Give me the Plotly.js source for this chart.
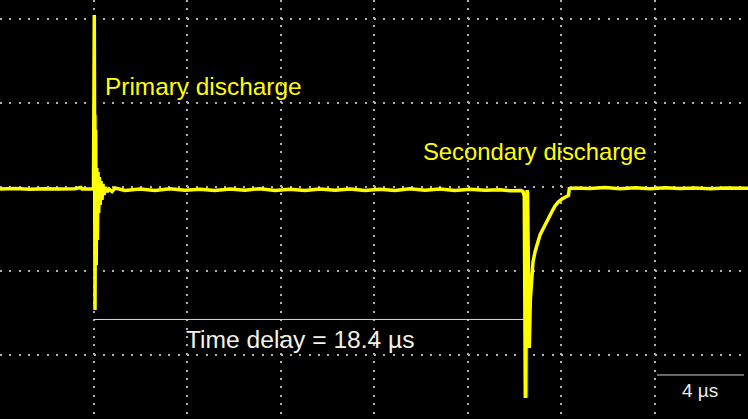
<!DOCTYPE html>
<html>
<head>
<meta charset="utf-8">
<script src="https://cdn.plot.ly/plotly-3.0.1.min.js"></script>
<style>
  html, body { margin: 0; padding: 0; background: #000; }
  #chart { width: 748px; height: 419px; }
</style>
</head>
<body>
<div id="chart"></div>
<script>
// Time in microseconds (4 µs per division), amplitude in vertical divisions
const timeUs = [
  0, 0.642, 1.283, 1.925, 2.567, 3.209, 3.465, 3.508, 4.000,
  4.034, 4.064, 4.090, 4.116, 4.141, 4.167, 4.193, 4.222, 4.253, 4.287, 4.321, 4.364, 4.406, 4.449, 4.513, 4.578, 4.663, 4.791,
  4.920, 5.348, 5.989, 6.631, 7.273, 7.914, 8.556, 9.198, 9.840, 10.481, 11.123, 11.765, 12.406, 13.048,
  13.690, 14.332, 14.973, 15.615, 16.257, 16.898, 17.540, 18.182, 18.824, 19.465, 20.107, 20.749, 21.390, 21.818, 22.289, 22.374,
  22.430, 22.473, 22.516, 22.554, 22.597, 22.644, 22.687, 22.747, 22.802, 22.888, 22.995, 23.102, 23.209, 23.316, 23.444,
  23.602, 23.743, 23.884, 24.043, 24.171, 24.321, 24.355, 24.599,
  25.241, 25.882, 26.524, 27.166, 27.807, 28.449, 29.091, 29.733, 30.374, 31.016, 32.000
];
const signalDiv = [
  -0.018, -0.013, -0.020, -0.014, -0.019, -0.015, 0.000, -0.018, -0.018,
  2.054, -1.458, 0.685, -0.923, 0.232, -0.625, 0.185, -0.304, 0.125, -0.208, 0.077, -0.149, 0.042, -0.089, 0.006, -0.054, -0.018, -0.048,
  -0.006, -0.036, -0.018, -0.036, -0.015, -0.032, -0.021, -0.037, -0.018, -0.033, -0.014, -0.035, -0.020, -0.037,
  -0.018, -0.032, -0.017, -0.036, -0.021, -0.035, -0.015, -0.033, -0.019, -0.037, -0.020, -0.032, -0.027, -0.039, -0.036, -0.048,
  -0.101, -2.506, -0.089, -0.030, -0.744, -1.911, -1.339, -1.006, -0.887, -0.768, -0.661, -0.565, -0.506, -0.446, -0.363,
  -0.292, -0.220, -0.173, -0.137, -0.119, -0.095, -0.012, -0.006,
  -0.013, -0.001, -0.015, -0.004, -0.014, -0.002, -0.013, -0.005, -0.014, -0.006, -0.010
];
// dimmer (persistence) segments of the trace
const dimTimeUs = [4.107, 4.107, null, 22.545, 22.545, null, 22.601, 22.601];
const dimSignalDiv = [0.863, -0.685, null, -0.030, -2.506, null, -0.054, -1.875];

const labelPrimary = "Primary discharge";
const labelSecondary = "Secondary discharge";
const delayStartUs = 4.021;
const delayEndUs = 22.46;
const delayLabel = "Time delay = 18.4 µs";
const scaleLabel = "4 µs";

const FONT = "Arial, 'Liberation Sans', sans-serif";
const yellow = "#ffff00";

const traces = [
  { x: dimTimeUs, y: dimSignalDiv, mode: "lines", line: { color: "#8c8c00", width: 2.5 }, hoverinfo: "skip", connectgaps: false },
  { x: timeUs, y: signalDiv, mode: "lines", line: { color: yellow, width: 3.5 }, hoverinfo: "skip" }
];

const layout = {
  width: 748, height: 419,
  margin: { l: 0, r: 0, t: 0, b: 0, pad: 0 },
  paper_bgcolor: "#000", plot_bgcolor: "#000",
  showlegend: false,
  xaxis: {
    range: [0, 32], tick0: 0, dtick: 4, showticklabels: false, ticks: "",
    showgrid: true, gridcolor: "#b0b0b0", gridwidth: 2, griddash: "2px,6.4px",
    zeroline: false, showline: false, fixedrange: true
  },
  yaxis: {
    range: [-2.756, 2.232], tick0: 0, dtick: 1, showticklabels: false, ticks: "",
    showgrid: true, gridcolor: "#b0b0b0", gridwidth: 2, griddash: "2px,7.35px",
    zeroline: false, showline: false, fixedrange: true
  },
  shapes: [
    { type: "line", xref: "x", yref: "y", x0: delayStartUs, x1: delayEndUs, y0: -1.571, y1: -1.571,
      line: { color: "#d8d8d8", width: 1 } },
    { type: "line", xref: "x", yref: "y", x0: 28.107, x1: 31.829, y0: -2.232, y1: -2.232,
      line: { color: "#d0d0d0", width: 1 } }
  ],
  annotations: [
    { text: labelPrimary, x: 4.42, y: 1.20, xref: "x", yref: "y", xanchor: "left", yanchor: "middle",
      showarrow: false, font: { family: FONT, size: 24.4, color: yellow } },
    { text: labelSecondary, x: 17.99, y: 0.425, xref: "x", yref: "y", xanchor: "left", yanchor: "middle",
      showarrow: false, font: { family: FONT, size: 23.8, color: yellow } },
    { text: delayLabel, x: 7.88, y: -1.81, xref: "x", yref: "y", xanchor: "left", yanchor: "middle",
      showarrow: false, font: { family: FONT, size: 24.6, color: "#f2f2ea" } },
    { text: scaleLabel, x: 29.10, y: -2.411, xref: "x", yref: "y", xanchor: "left", yanchor: "middle",
      showarrow: false, font: { family: FONT, size: 19, color: "#eeeeee" } }
  ]
};

Plotly.newPlot("chart", traces, layout, { staticPlot: true, displayModeBar: false });
</script>
</body>
</html>
